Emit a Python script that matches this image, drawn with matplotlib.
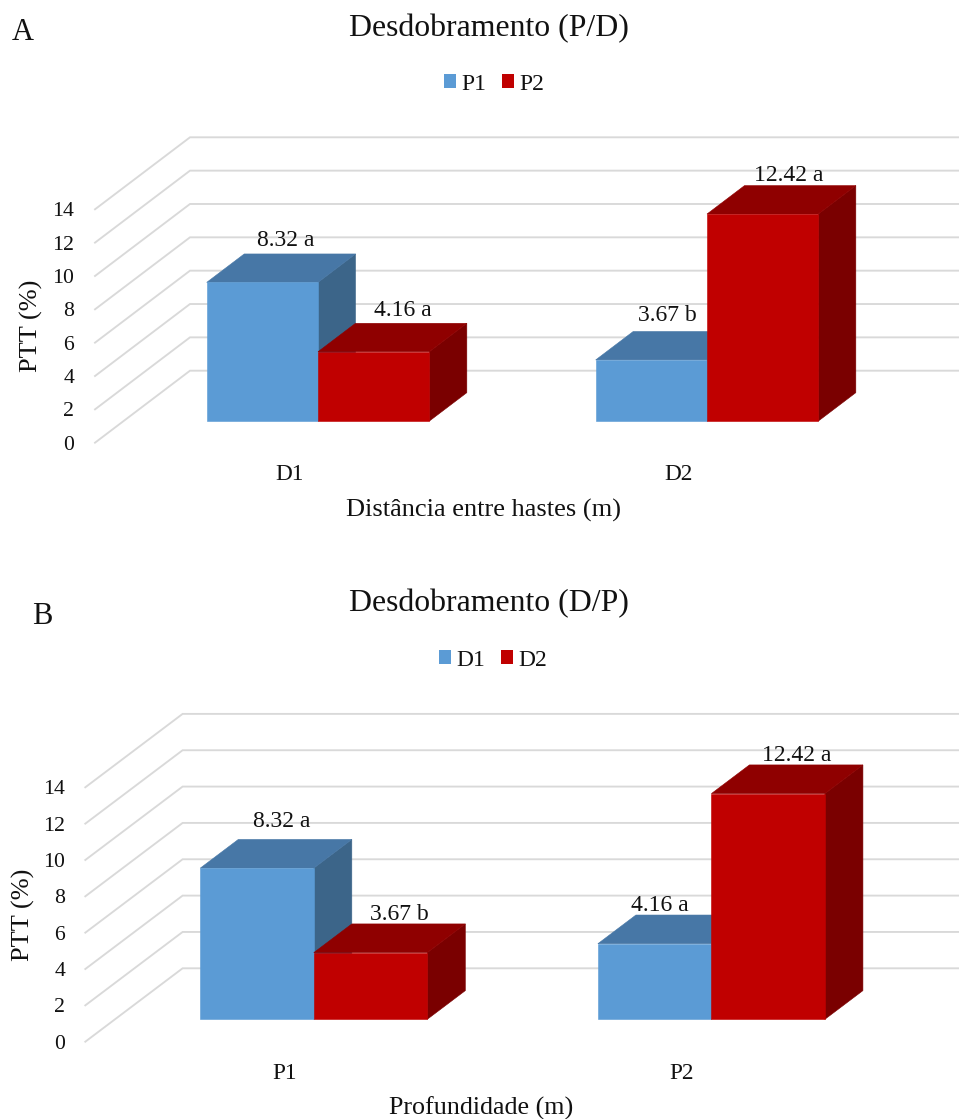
import matplotlib
matplotlib.use("Agg")
import matplotlib.pyplot as plt
from matplotlib.patches import Polygon, Patch

plt.rcParams['font.family'] = ['Liberation Serif', 'DejaVu Serif']

W, H = 959, 1119

# ---- data ----
categories_a = ["D1", "D2"]
series_names_a = ["P1", "P2"]
p1_values_a = [8.32, 3.67]
p2_values_a = [4.16, 12.42]
p1_labels_a = ["8.32 a", "3.67 b"]
p2_labels_a = ["4.16 a", "12.42 a"]

categories_b = ["P1", "P2"]
series_names_b = ["D1", "D2"]
d1_values_b = [8.32, 4.16]
d2_values_b = [3.67, 12.42]
d1_labels_b = ["8.32 a", "4.16 a"]
d2_labels_b = ["3.67 b", "12.42 a"]

y_ticks = [0, 2, 4, 6, 8, 10, 12, 14]

# ---- style ----
FRONT = ["#5B9BD5", "#C00000"]
TOP = ["#4777A6", "#8F0000"]
SIDE = ["#3C6589", "#7A0000"]
GRID = "#D9D9D9"
TXT = "#111111"


def panel(fig, geo, cats, names, series, labels, title, xlabel, letter):
    left, right, y0, y14 = geo['left'], geo['right'], geo['y0'], geo['y14']
    ax = fig.add_axes([left / W, 1 - y0 / H, (right - left) / W, (y0 - y14) / H])
    ax.set_xlim(-0.5, 1.5)
    ax.set_ylim(0, 14)
    ax.patch.set_visible(False)
    for s in ax.spines.values():
        s.set_visible(False)

    xs = (right - left) / 2.0   # px per category
    ys = (y0 - y14) / 14.0      # px per unit
    zx = geo['dx'] / xs
    zy = geo['dy'] / ys

    def proj(x, y, z):
        return (x + z * zx, y + z * zy)

    # floor + wall gridlines
    for t in y_ticks:
        pts = [proj(-0.5, t, 0), proj(-0.5, t, 1), proj(1.5, t, 1)]
        ax.plot([p[0] for p in pts], [p[1] for p in pts], color=GRID, lw=1.35,
                clip_on=False, solid_joinstyle='miter', zorder=1)

    bw = geo['bw'] / xs
    z0, z1 = geo['z0'], geo['z1']
    zorder = 2
    for i in range(len(cats)):
        for j, vals in enumerate(series):
            xa = i + (j - 1) * bw
            xb = xa + bw
            v = vals[i]
            faces = [
                (SIDE[j], [proj(xb, 0, z0), proj(xb, 0, z1), proj(xb, v, z1), proj(xb, v, z0)]),
                (TOP[j], [proj(xa, v, z0), proj(xb, v, z0), proj(xb, v, z1), proj(xa, v, z1)]),
                (FRONT[j], [proj(xa, 0, z0), proj(xb, 0, z0), proj(xb, v, z0), proj(xa, v, z0)]),
            ]
            for col, pts in faces:
                ax.add_patch(Polygon(pts, closed=True, facecolor=col, edgecolor=col,
                                     lw=0.4, clip_on=False, zorder=zorder))
            zorder += 1

    # data labels: anchored on the bar's front centre (x) and back top edge (y)
    for j, vals in enumerate(series):
        for i, v in enumerate(vals):
            xa = i + (j - 1) * bw
            bx = proj(xa + bw / 2, v, z0)[0]
            by = proj(xa + bw / 2, v, z1)[1]
            ox, oy = geo['nudges'][j][i]
            ax.annotate(labels[j][i], (bx, by), xytext=(ox * 0.72, (oy - 2.5) * 0.72),
                        textcoords='offset points', ha='center', va='center',
                        fontsize=17, color=TXT, annotation_clip=False, zorder=20)

    ax.set_yticks(y_ticks)
    ax.set_yticklabels([str(t) for t in y_ticks], fontsize=15.7, color=TXT)
    ax.set_xticks([0, 1])
    ax.set_xticklabels(cats, fontsize=16.8, color=TXT)
    ax.tick_params(axis='y', length=0, pad=geo['ypad'])
    ax.tick_params(axis='x', length=0, pad=geo['xpad'])

    def axc(px, py):
        return ((px - left) / (right - left), (y0 - py) / (y0 - y14))

    ax.set_xlabel(xlabel, fontsize=geo['xfs'], color=TXT, va='center')
    ax.xaxis.set_label_coords(*axc(*geo['xlabel']))
    ax.set_ylabel("PTT (%)", fontsize=19, color=TXT, va='center')
    ax.yaxis.set_label_coords(*axc(*geo['ylabel']))
    tx, ty = axc(*geo['title'])
    ax.set_title(title, fontsize=22.9, color=TXT, x=tx, y=ty, va='center', pad=0)
    fig.text(geo['letter'][0] / W, 1 - geo['letter'][1] / H, letter, fontsize=22,
             color=TXT, ha='center', va='center')

    handles = [Patch(facecolor=FRONT[k], edgecolor='none', label=names[k]) for k in range(2)]
    lx, ly = geo['legend']
    ax.legend(handles=handles, ncol=2, loc='center', frameon=False,
              bbox_to_anchor=(lx / W, 1 - ly / H), bbox_transform=fig.transFigure,
              fontsize=17, handlelength=0.51, handleheight=0.51,
              handletextpad=0.22, columnspacing=0.68, borderpad=0, borderaxespad=0,
              labelcolor=TXT)
    return ax


fig = plt.figure(figsize=(W / 100, H / 100), dpi=100, facecolor='white')

geo_a = dict(left=95, right=873, y0=442.7, y14=209.3, dx=95, dy=72,
             bw=111.3, z0=0.30, z1=0.695, ypad=15, xpad=15.3, xfs=19,
             xlabel=(483.5, 510), ylabel=(31, 326), title=(489, 29), letter=(23, 33),
             legend=(494, 84),
             nudges=[[(23, 16), (16, 18.7)], [(29, 15.5), (26, 12.7)]])
geo_b = dict(left=85.3, right=880.5, y0=1041.7, y14=787.3, dx=97.3, dy=73.4,
             bw=113.5, z0=0.305, z1=0.696, ypad=14.5, xpad=15.3, xfs=18.7,
             xlabel=(481, 1108), ylabel=(23, 915), title=(489, 604), letter=(42, 617),
             legend=(493, 660),
             nudges=[[(25, 20.7), (5, 12.5)], [(28.6, 12.3), (28.5, 12)]])

panel(fig, geo_a, categories_a, series_names_a, [p1_values_a, p2_values_a],
      [p1_labels_a, p2_labels_a], "Desdobramento (P/D)", "Distância entre hastes (m)", "A")
panel(fig, geo_b, categories_b, series_names_b, [d1_values_b, d2_values_b],
      [d1_labels_b, d2_labels_b], "Desdobramento (D/P)", "Profundidade (m)", "B")

fig.savefig("out.png", dpi=100, facecolor='white')
